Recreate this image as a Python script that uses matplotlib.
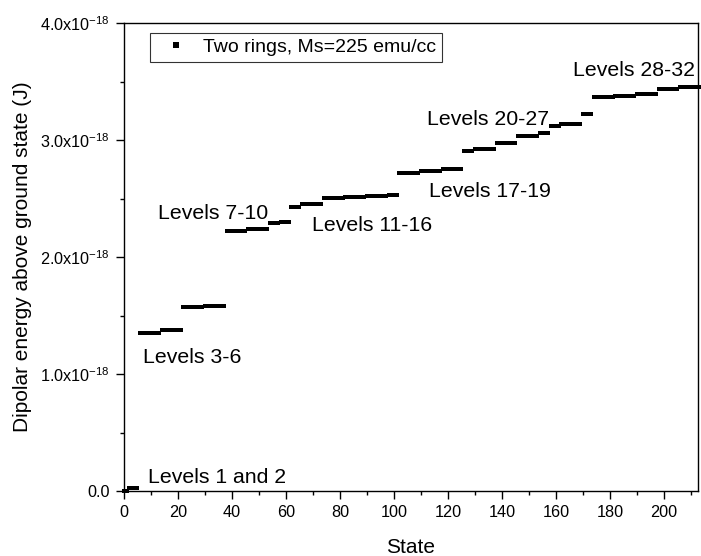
import numpy as np
import matplotlib
matplotlib.use("Agg")
import matplotlib.pyplot as plt
from matplotlib.ticker import MultipleLocator, FixedLocator, FixedFormatter

# energy of each level (units of 1e-18 J) and number of states in it
level_energy = [0.0, 0.028, 1.348, 1.38, 1.57, 1.58, 2.225, 2.24, 2.29, 2.30,
                2.43, 2.45, 2.505, 2.515, 2.52, 2.53, 2.715, 2.735, 2.755,
                2.909, 2.92, 2.977, 3.03, 3.057, 3.12, 3.137, 3.22,
                3.368, 3.379, 3.39, 3.436, 3.45]
level_states = [2, 4, 8, 8, 8, 8, 8, 8, 4, 4,
                4, 8, 8, 8, 8, 4, 8, 8, 8,
                4, 8, 8, 8, 4, 4, 8, 4,
                8, 8, 8, 8, 8]

# annotation text, left x (state) and baseline y (1e-18 J)
labels = ["Levels 1 and 2", "Levels 3-6", "Levels 7-10", "Levels 11-16",
          "Levels 17-19", "Levels 20-27", "Levels 28-32"]
label_x = [8.8, 7.1, 12.7, 69.7, 113.1, 112.1, 166.4]
label_y = [0.066, 1.091, 2.322, 2.225, 2.515, 3.128, 3.55]

yticks = [0.0, 1.0, 2.0, 3.0, 4.0]
ytick_labels = ["0.0", "1.0x10$^{-18}$", "2.0x10$^{-18}$",
                "3.0x10$^{-18}$", "4.0x10$^{-18}$"]

energy = np.repeat(level_energy, level_states) * 1e-18
state = np.arange(len(energy))

plt.rcParams["font.family"] = ["Liberation Sans", "DejaVu Sans"]
plt.rcParams["mathtext.default"] = "regular"

fig = plt.figure(figsize=(7.01, 5.56), dpi=100)
ax = fig.add_axes([124 / 701, 1 - 491 / 556, 574 / 701, 468 / 556])

ax.plot(state, energy, ls="none", marker="s", ms=2.7, color="black",
        mew=0, clip_on=False, label="Two rings, Ms=225 emu/cc")

for txt, tx, ty in zip(labels, label_x, label_y):
    ax.text(tx, ty * 1e-18, txt, fontsize=15.3, va="baseline", ha="left")

ax.set_xlim(0, 212.6)
ax.set_ylim(0, 4e-18)
ax.xaxis.set_major_locator(MultipleLocator(20))
ax.xaxis.set_minor_locator(MultipleLocator(10))
ax.yaxis.set_major_locator(FixedLocator([v * 1e-18 for v in yticks]))
ax.yaxis.set_major_formatter(FixedFormatter(ytick_labels))
ax.yaxis.set_minor_locator(MultipleLocator(0.5e-18))

ax.tick_params(which="both", direction="out", width=1.0, labelsize=11.7, pad=4)
ax.tick_params(which="major", length=6)
ax.tick_params(which="minor", length=3)
for sp in ax.spines.values():
    sp.set_linewidth(1.0)

ax.set_xlabel("State", fontsize=15)
ax.set_ylabel("Dipolar energy above ground state (J)", fontsize=15)
ax.xaxis.set_label_coords(0.5, -0.100)
ax.yaxis.set_label_coords(-0.160, 0.5)

leg = ax.legend(loc="upper left", bbox_to_anchor=(0.045, 0.979),
                borderaxespad=0, fontsize=14, frameon=True, fancybox=False,
                borderpad=0.3, handlelength=2.1, handletextpad=0.36,
                markerscale=1.5)
leg.get_frame().set_edgecolor("black")
leg.get_frame().set_linewidth(0.8)

fig.savefig("out.png", dpi=100)
